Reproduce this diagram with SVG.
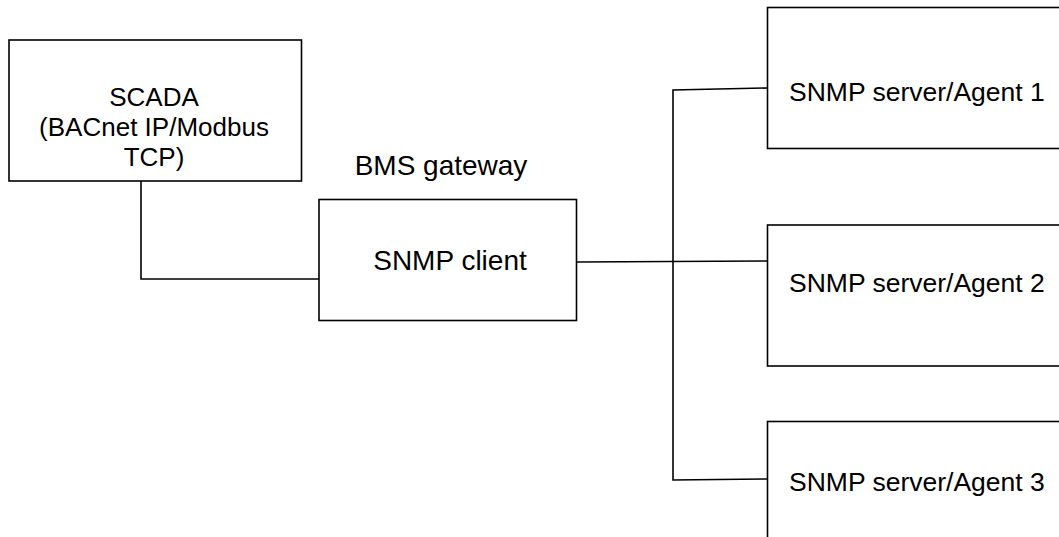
<svg xmlns="http://www.w3.org/2000/svg" width="1059" height="537" viewBox="0 0 1059 537">
<style>
.box{fill:#fff;stroke:#000;stroke-width:1.6}
.ln{fill:none;stroke:#000;stroke-width:1.6}
text{font-family:"Liberation Sans",Arial,sans-serif;font-size:26px;fill:#000}
.c{text-anchor:middle}
.big{font-size:28px}
.ag{font-size:26.5px}
</style>
<rect width="1059" height="537" fill="#fff"/>
<g id="connectors">
<polyline class="ln" points="141,181 141,279 319,279"/>
<polyline class="ln" points="577,262 767,261"/>
<polyline class="ln" points="767,88 673,90 673,480 767,479"/>
</g>
<g id="scada">
<rect class="box" x="9" y="40" width="292.5" height="141"/>
<text class="c" x="154" y="106">SCADA</text>
<text class="c" x="154" y="136">(BACnet IP/Modbus</text>
<text class="c" x="154" y="166">TCP)</text>
</g>
<g id="bms-gateway">
<text class="c big" x="441" y="175">BMS gateway</text>
</g>
<g id="snmp-client">
<rect class="box" x="319" y="199.5" width="257.5" height="121"/>
<text class="c big" x="450" y="270">SNMP client</text>
</g>
<g id="agent1">
<rect class="box" x="767.5" y="7.5" width="400" height="141"/>
<text class="ag" x="789" y="101">SNMP server/Agent 1</text>
</g>
<g id="agent2">
<rect class="box" x="767.5" y="225" width="400" height="141"/>
<text class="ag" x="789" y="292">SNMP server/Agent 2</text>
</g>
<g id="agent3">
<rect class="box" x="767.5" y="421.5" width="400" height="141"/>
<text class="ag" x="789" y="491">SNMP server/Agent 3</text>
</g>
</svg>
